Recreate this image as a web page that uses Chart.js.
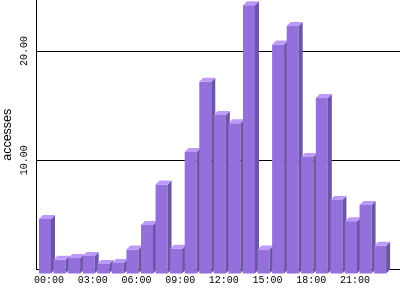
<!DOCTYPE html>
<html>
<head>
<meta charset="utf-8">
<script src="https://cdn.jsdelivr.net/npm/chart.js@4.4.1/dist/chart.umd.min.js"></script>
<style>
  html, body { margin: 0; padding: 0; background: #fff; }
  #chart { display: block; }
</style>
</head>
<body>
<canvas id="chart" width="400" height="300"></canvas>
<script>
// hourly accesses (averages)
const hours = [0, 1, 2, 3, 4, 5, 6, 7, 8, 9, 10, 11, 12, 13, 14, 15, 16, 17, 18, 19, 20, 21, 22, 23];
const accesses = [5.0, 1.25, 1.43, 1.6, 0.88, 0.97, 2.2, 4.45, 8.15, 2.27, 11.13, 17.55,
                  14.52, 13.76, 24.57, 2.2, 20.97, 22.67, 10.68, 16.08, 6.74, 4.79, 6.28, 2.53];
const hourTicks = [0, 3, 6, 9, 12, 15, 18, 21];
const valueTicks = [10, 20];

const frontColor = '#9370db';
const sideColor = '#6c54a6';
const topColor = '#bd9af8';
const depth = 4;

const tickFont = { family: 'Liberation Mono', size: 10 };

function pad2(n) {
  return (n < 10 ? '0' : '') + n;
}

// draws each bar as a little box: front, right side, top
const boxBars = {
  id: 'boxBars',
  afterDatasetsDraw(chart) {
    const c = chart.ctx;
    const meta = chart.getDatasetMeta(0);
    c.save();
    meta.data.forEach((bar) => {
      const half = bar.width / 2;
      const l = bar.x - half, r = bar.x + half;
      const t = bar.y, b = bar.base;
      c.fillStyle = frontColor;
      c.fillRect(l - depth, t + depth, r - l, b - t);
      c.fillStyle = sideColor;
      c.beginPath();
      c.moveTo(r - depth, t + depth);
      c.lineTo(r, t);
      c.lineTo(r, b);
      c.lineTo(r - depth, b + depth);
      c.closePath();
      c.fill();
      c.fillStyle = topColor;
      c.beginPath();
      c.moveTo(l - depth, t + depth);
      c.lineTo(l, t);
      c.lineTo(r, t);
      c.lineTo(r - depth, t + depth);
      c.closePath();
      c.fill();
    });
    c.restore();
  }
};

new Chart(document.getElementById('chart'), {
  type: 'bar',
  data: {
    datasets: [{
      data: hours.map((h, i) => ({ x: h, y: accesses[i] })),
      backgroundColor: 'rgba(0,0,0,0)',
      borderWidth: 0,
      barThickness: 12
    }]
  },
  options: {
    responsive: false,
    animation: false,
    devicePixelRatio: 1,
    layout: { padding: 0 },
    plugins: {
      legend: { display: false },
      tooltip: { enabled: false }
    },
    scales: {
      x: {
        type: 'linear',
        offset: false,
        min: -0.892,
        max: 24.09,
        z: 1,
        afterBuildTicks: (scale) => { scale.ticks = hourTicks.map(v => ({ value: v })); },
        afterFit: (scale) => {
          scale.height = 30.5;
          scale.paddingLeft = 0;
          scale.paddingRight = 0;
        },
        grid: { display: false, drawTicks: false },
        border: { display: true, color: '#000', width: 1 },
        ticks: {
          color: '#000',
          font: tickFont,
          padding: 5,
          maxRotation: 0,
          autoSkip: false,
          callback: (v) => pad2(v) + ':00'
        }
      },
      y: {
        min: 0,
        max: 24.68,
        afterBuildTicks: (scale) => { scale.ticks = valueTicks.map(v => ({ value: v })); },
        afterFit: (scale) => {
          scale.width = 36;
          scale.paddingTop = 0;
          scale.paddingBottom = 0;
        },
        grid: { color: '#000', lineWidth: 1, drawTicks: false },
        border: { display: true, color: '#000', width: 1 },
        ticks: {
          color: '#000',
          font: tickFont,
          padding: -3,
          minRotation: 90,
          maxRotation: 90,
          crossAlign: 'center',
          callback: (v) => v.toFixed(2)
        },
        title: {
          display: true,
          text: 'accesses',
          color: '#000',
          font: { family: 'Liberation Sans', size: 12.5 },
          padding: { top: 0, bottom: 0 }
        }
      }
    }
  },
  plugins: [boxBars]
});
</script>
</body>
</html>
